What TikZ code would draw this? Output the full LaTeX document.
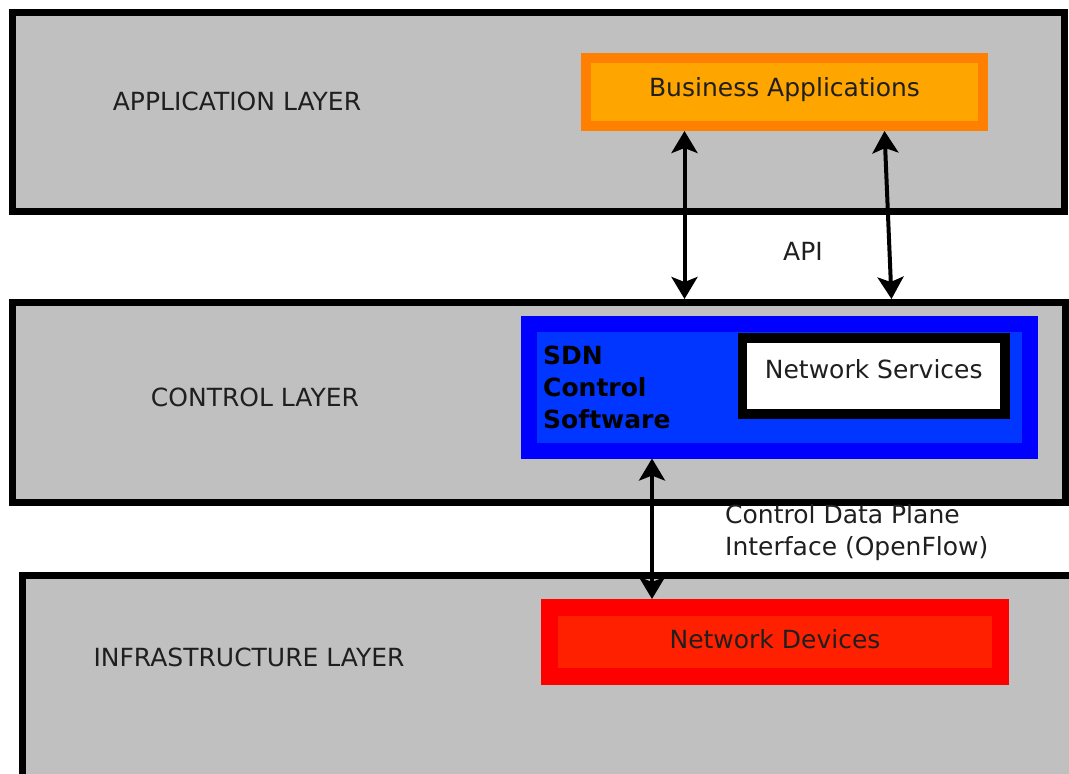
\documentclass[tikz,border=0pt]{standalone}
\usepackage{fontspec}
\setmainfont{DejaVu Sans}
\usetikzlibrary{arrows.meta}
\definecolor{layergray}{HTML}{C0C0C0}
\definecolor{appout}{HTML}{FF8000}
\definecolor{appin}{HTML}{FFA500}
\definecolor{sdnout}{HTML}{0000FF}
\definecolor{sdnin}{HTML}{0036FF}
\definecolor{devout}{HTML}{FF0000}
\definecolor{devin}{HTML}{FF2000}
\begin{document}
\begin{tikzpicture}
[x=1pt,y=-1pt,
layer/.style={draw=black,fill=layergray,line width=7pt,inner sep=0pt},
box/.style={line width=#1,inner sep=0pt,font=\fontsize{25}{32}\selectfont,text=black!88},
txt/.style={font=\fontsize{25}{32}\selectfont,text=black!88,inner sep=0pt},
biarrow/.style={{Stealth[length=22pt,width=26pt,inset=5pt]}-{Stealth[length=22pt,width=26pt,inset=5pt]},line width=4pt}]
\useasboundingbox (0,0) rectangle (1069,774);

\node[layer,minimum width=1052.5,minimum height=199.5] at (538.25,111.75) (app) {};
\node[layer,minimum width=1053,minimum height=199.5]   at (538.5,402.25)  (ctrl) {};
\node[layer,minimum width=1053,minimum height=205]     at (548.5,677.5)   (infra) {};

\node[txt] at (237,101) (applbl)   {APPLICATION LAYER};
\node[txt] at (255,397) (ctrllbl)  {CONTROL LAYER};
\node[txt] at (249,657) (infralbl) {INFRASTRUCTURE LAYER};

\node[box=10pt,draw=appout,fill=appin,minimum width=397,minimum height=68.5,text depth=10pt] at (784.5,91.75) (apps) {Business Applications};
\node[box=16pt,draw=sdnout,fill=sdnin,minimum width=501,minimum height=126.5] at (779.5,387.25) (sdn) {};
\node[txt,font=\fontsize{25}{32}\selectfont\bfseries,text=black,align=left,anchor=west] at (543,387) (sdnlbl) {SDN\\Control\\Software};
\node[box=9.5pt,draw=black,fill=white,minimum width=262.5,minimum height=76,text depth=14pt] at (873.75,376) (services) {Network Services};
\node[box=17pt,draw=devout,fill=devin,minimum width=451,minimum height=69,text depth=6pt] at (775,642) (devices) {Network Devices};

\node[txt] at (803,251) (api) {API};
\node[txt,align=left,anchor=west] at (725,533) (cdpi) {Control Data Plane\\Interface (OpenFlow)};

\draw[biarrow] ([xshift=-100pt]apps.south) -- ([xshift=-100pt]apps.south |- ctrl.north);
\draw[biarrow] ([xshift=100pt]apps.south) -- ([xshift=107pt]apps.south |- ctrl.north);
\draw[biarrow] ([xshift=-127.5pt]sdn.south) -- ([xshift=-127.5pt]sdn.south |- devices.north);
\end{tikzpicture}
\end{document}
